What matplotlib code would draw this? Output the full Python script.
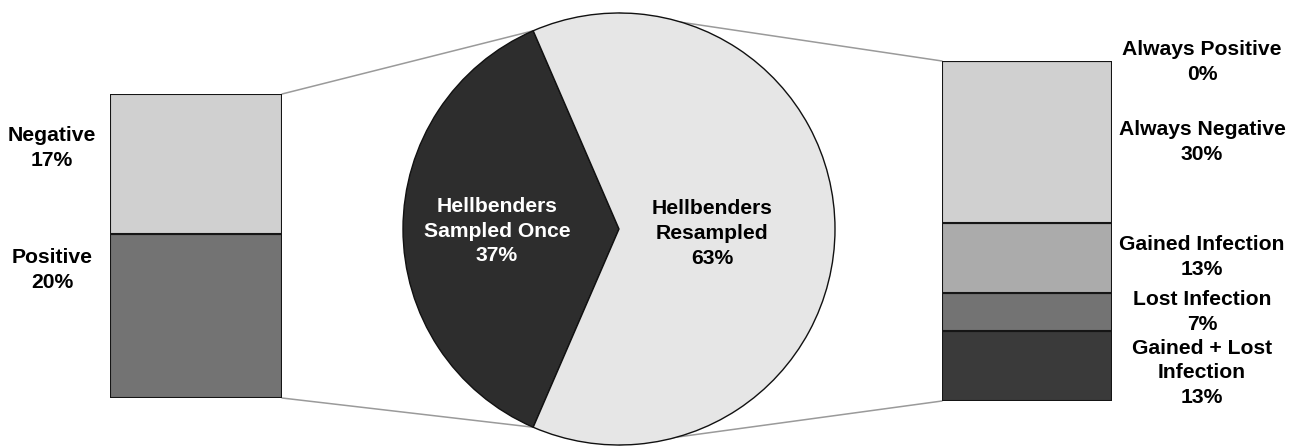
import matplotlib.pyplot as plt
from matplotlib.patches import ConnectionPatch
import numpy as np

plt.rcParams['font.family'] = ['Liberation Sans', 'DejaVu Sans']
plt.rcParams['font.weight'] = 'bold'

# ---------------------------------------------------------------------------
# Data
# ---------------------------------------------------------------------------

pie_labels = ['Hellbenders\nSampled Once', 'Hellbenders\nResampled']
pie_values = [37, 63]
pie_colors = ['#2d2d2d', '#e6e6e6']

# stacked from the bottom up
once_labels = ['Positive', 'Negative']
once_values = [20, 17]
once_colors = ['#737373', '#d0d0d0']

resampled_labels = ['Gained + Lost\nInfection', 'Lost Infection',
                    'Gained Infection', 'Always Negative', 'Always Positive']
resampled_values = [13, 7, 13, 30, 0]
resampled_colors = ['#3a3a3a', '#737373', '#ababab', '#d0d0d0', '#bfbfbf']

# label anchor points in figure pixels (x, y from top)
once_label_pos = [(52, 270), (52, 148)]
resampled_label_pos = [(1202, 373), (1202, 312), (1202, 257), (1202, 142), (1202, 62)]

W, H = 1301, 446
FS = 15.2
LS = 1.38


def px_box(x0, y0, x1, y1):
    """Pixel box (top-left origin) -> figure fraction rect."""
    return [x0 / W, 1 - y1 / H, (x1 - x0) / W, (y1 - y0) / H]


def stacked_bar(ax, values, colors):
    bottom = np.concatenate([[0], np.cumsum(values)[:-1]])
    ax.bar(0, values, bottom=bottom, width=1, color=colors,
           edgecolor='#151515', linewidth=1.5)
    ax.set_xlim(-0.5, 0.5)
    ax.set_ylim(0, sum(values))
    ax.axis('off')


fig = plt.figure(figsize=(W / 100, H / 100), dpi=100)

# ---------------------------------------------------------------------------
# Pie
# ---------------------------------------------------------------------------

cx, cy, r = 619, 229, 216
ax_pie = fig.add_axes(px_box(cx - r, cy - r, cx + r, cy + r))
start = 180 - pie_values[0] * 3.6 / 2
ax_pie.pie(pie_values, colors=pie_colors, startangle=start, counterclock=True,
           wedgeprops=dict(edgecolor='#111111', linewidth=1.0))
ax_pie.set_xlim(-1, 1)
ax_pie.set_ylim(-1, 1)
ax_pie.axis('off')

pie_text = [f'{l}\n{v}%' for l, v in zip(pie_labels, pie_values)]
ax_pie.text(-0.565, -0.01, pie_text[0], ha='center', va='center',
            color='white', fontsize=FS, fontweight='bold', linespacing=LS)
ax_pie.text(0.43, -0.02, pie_text[1], ha='center', va='center',
            color='black', fontsize=FS, fontweight='bold', linespacing=LS)

# ---------------------------------------------------------------------------
# Bars
# ---------------------------------------------------------------------------

ax_left = fig.add_axes(px_box(110, 94, 282, 398))
stacked_bar(ax_left, once_values, once_colors)

ax_right = fig.add_axes(px_box(942, 61, 1112, 401))
stacked_bar(ax_right, resampled_values, resampled_colors)

for lbl, v, (x, y) in zip(once_labels, once_values, once_label_pos):
    fig.text(x / W, 1 - y / H, f'{lbl}\n{v}%', ha='center', va='center',
             fontsize=FS, fontweight='bold', linespacing=LS)
for lbl, v, (x, y) in zip(resampled_labels, resampled_values, resampled_label_pos):
    fig.text(x / W, 1 - y / H, f'{lbl}\n{v}%', ha='center', va='center',
             fontsize=FS, fontweight='bold', linespacing=LS)

# ---------------------------------------------------------------------------
# Connector lines (behind everything)
# ---------------------------------------------------------------------------

theta1 = np.deg2rad(start)
theta2 = np.deg2rad(start + pie_values[0] * 3.6)
links = [
    ((1, 1), ax_left, (np.cos(theta1), np.sin(theta1))),
    ((1, 0), ax_left, (np.cos(theta2), np.sin(theta2))),
    ((0, 1), ax_right, (0, 1)),
    ((0, 0), ax_right, (0, -1)),
]
for xy_bar, ax_bar, xy_pie in links:
    con = ConnectionPatch(xyA=xy_bar, coordsA=ax_bar.transAxes,
                          xyB=xy_pie, coordsB=ax_pie.transData,
                          color='#9a9a9a', linewidth=1.1, zorder=-1)
    fig.add_artist(con)

plt.savefig('out.png', dpi=100)
plt.close()
